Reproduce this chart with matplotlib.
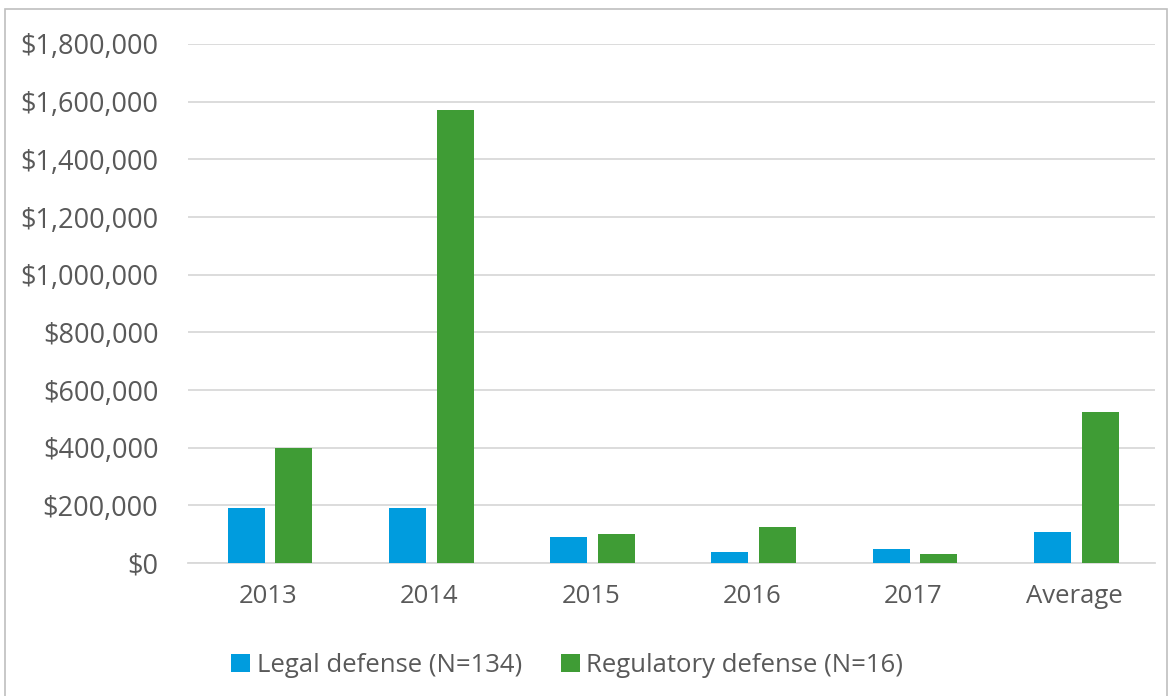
import numpy as np
import matplotlib.pyplot as plt
from matplotlib.patches import Rectangle
from matplotlib.ticker import FuncFormatter

categories = ['2013', '2014', '2015', '2016', '2017', 'Average']
legal = [190000, 190000, 90000, 38000, 48000, 107000]
regulatory = [399000, 1570000, 100000, 125000, 31000, 523000]
series_names = ['Legal defense (N=134)', 'Regulatory defense (N=16)']

plt.rcParams['font.family'] = ['Open Sans', 'DejaVu Sans']
text_color = '#595959'

fig = plt.figure(figsize=(11.72, 6.96), dpi=100)
ax = fig.add_axes([0.160, 0.191, 0.8255, 0.7458])

x = np.arange(len(categories))
w = 0.23
ax.bar(x - 0.137, legal, w, color='#009cde', label=series_names[0], zorder=3)
ax.bar(x + 0.160, regulatory, w, color='#3f9c35', label=series_names[1], zorder=3)

ax.set_xlim(-0.5, len(categories) - 0.5)
ax.set_ylim(0, 1800000)
ax.set_yticks(np.arange(0, 1800001, 200000))
ax.yaxis.set_major_formatter(FuncFormatter(lambda v, p: '${:,.0f}'.format(v)))
ax.set_xticks(x)
ax.set_xticklabels(categories)
ax.grid(axis='y', color='#d9d9d9', linewidth=1.3, zorder=0)
for s in ['top', 'right', 'left']:
    ax.spines[s].set_visible(False)
ax.spines['bottom'].set_color('#d9d9d9')
ax.spines['bottom'].set_linewidth(1.3)
ax.tick_params(axis='both', length=0, colors=text_color)
ax.tick_params(axis='y', pad=21, labelsize=19.5)
ax.tick_params(axis='x', pad=15, labelsize=18.5)

leg = fig.legend(loc='center', bbox_to_anchor=(0.484, 0.044), ncol=2, frameon=False,
                 fontsize=18.5, handlelength=0.75, handleheight=0.75,
                 handletextpad=0.25, columnspacing=1.5)
for t in leg.get_texts():
    t.set_color(text_color)

# outer frame of the chart
fig.patches.append(Rectangle((5 / 1172, -0.05), 1162 / 1172, 1 - 9 / 696 + 0.05,
                             transform=fig.transFigure, fill=False,
                             edgecolor='#bfbfbf', linewidth=1.2))

fig.savefig('out.png', dpi=100)
